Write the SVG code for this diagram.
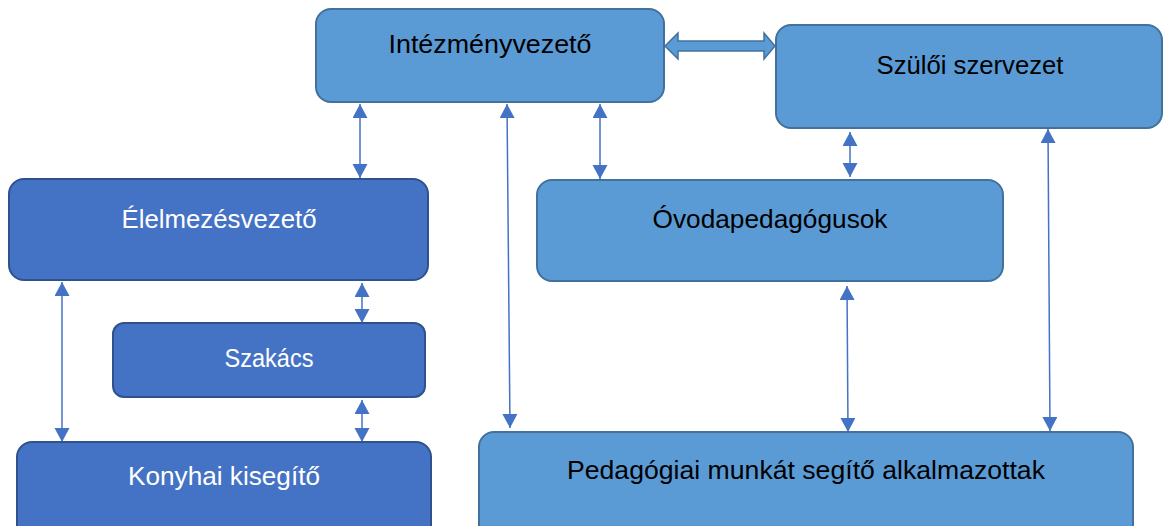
<svg xmlns="http://www.w3.org/2000/svg" width="1163" height="526" viewBox="0 0 1163 526">
<defs>
<style>
.light{fill:#5b9bd5;stroke:#41719c;stroke-width:2}
.dark{fill:#4472c4;stroke:#2f528f;stroke-width:2}
.t{font-family:"Liberation Sans",Arial,sans-serif;font-size:25px;text-anchor:middle}
.tb{fill:#000}
.tw{fill:#fff}
.c{stroke:#4472c4;stroke-width:1.5;fill:none;marker-start:url(#ah);marker-end:url(#ah)}
</style>
<marker id="ah" markerUnits="userSpaceOnUse" markerWidth="15" markerHeight="16" refX="14" refY="7.5" orient="auto-start-reverse">
<path d="M0,0 L14,7.5 L0,15 z" fill="#4472c4"/>
</marker>
</defs>
<rect width="1163" height="526" fill="#fff"/>
<g id="connectors">
<polygon points="665,46 678,33 678,41 764,41 764,33 775,46 764,59 764,51 678,51 678,59" fill="#5b9bd5" stroke="#41719c" stroke-width="1.5"/>
<line class="c" x1="360" y1="104" x2="360" y2="178"/>
<line class="c" x1="600" y1="104" x2="600" y2="179"/>
<line class="c" x1="507" y1="104" x2="510" y2="428"/>
<line class="c" x1="850" y1="132" x2="850" y2="177"/>
<line class="c" x1="1048" y1="129" x2="1050" y2="431"/>
<line class="c" x1="847" y1="286" x2="848" y2="432"/>
<line class="c" x1="62" y1="282" x2="62" y2="442"/>
<line class="c" x1="362" y1="283" x2="362" y2="323"/>
<line class="c" x1="362" y1="400" x2="362" y2="442"/>
</g>
<g id="intezmenyvezeto">
<rect class="light" x="316" y="9" width="348" height="93" rx="15"/>
<text class="t tb" x="490" y="53" textLength="203" lengthAdjust="spacingAndGlyphs">Intézményvezető</text>
</g>
<g id="szuloi-szervezet">
<rect class="light" x="776" y="25" width="386" height="103" rx="15"/>
<text class="t tb" x="970" y="74" textLength="187" lengthAdjust="spacingAndGlyphs">Szülői szervezet</text>
</g>
<g id="elelmezesvezeto">
<rect class="dark" x="9" y="179" width="419" height="101" rx="15"/>
<text class="t tw" x="219" y="228" textLength="195" lengthAdjust="spacingAndGlyphs">Élelmezésvezető</text>
</g>
<g id="ovodapedagogusok">
<rect class="light" x="537" y="180" width="466" height="101" rx="15"/>
<text class="t tb" x="770" y="228" textLength="235" lengthAdjust="spacingAndGlyphs">Óvodapedagógusok</text>
</g>
<g id="szakacs">
<rect class="dark" x="113" y="323" width="312" height="74" rx="11"/>
<text class="t tw" x="269" y="367" textLength="89" lengthAdjust="spacingAndGlyphs">Szakács</text>
</g>
<g id="konyhai-kisegito">
<rect class="dark" x="17" y="442" width="414" height="110" rx="15"/>
<text class="t tw" x="224" y="485" textLength="192" lengthAdjust="spacingAndGlyphs">Konyhai kisegítő</text>
</g>
<g id="pedagogiai-munkat-segito">
<rect class="light" x="479" y="432" width="654" height="110" rx="15"/>
<text class="t tb" x="806" y="479" textLength="478" lengthAdjust="spacingAndGlyphs">Pedagógiai munkát segítő alkalmazottak</text>
</g>
</svg>
